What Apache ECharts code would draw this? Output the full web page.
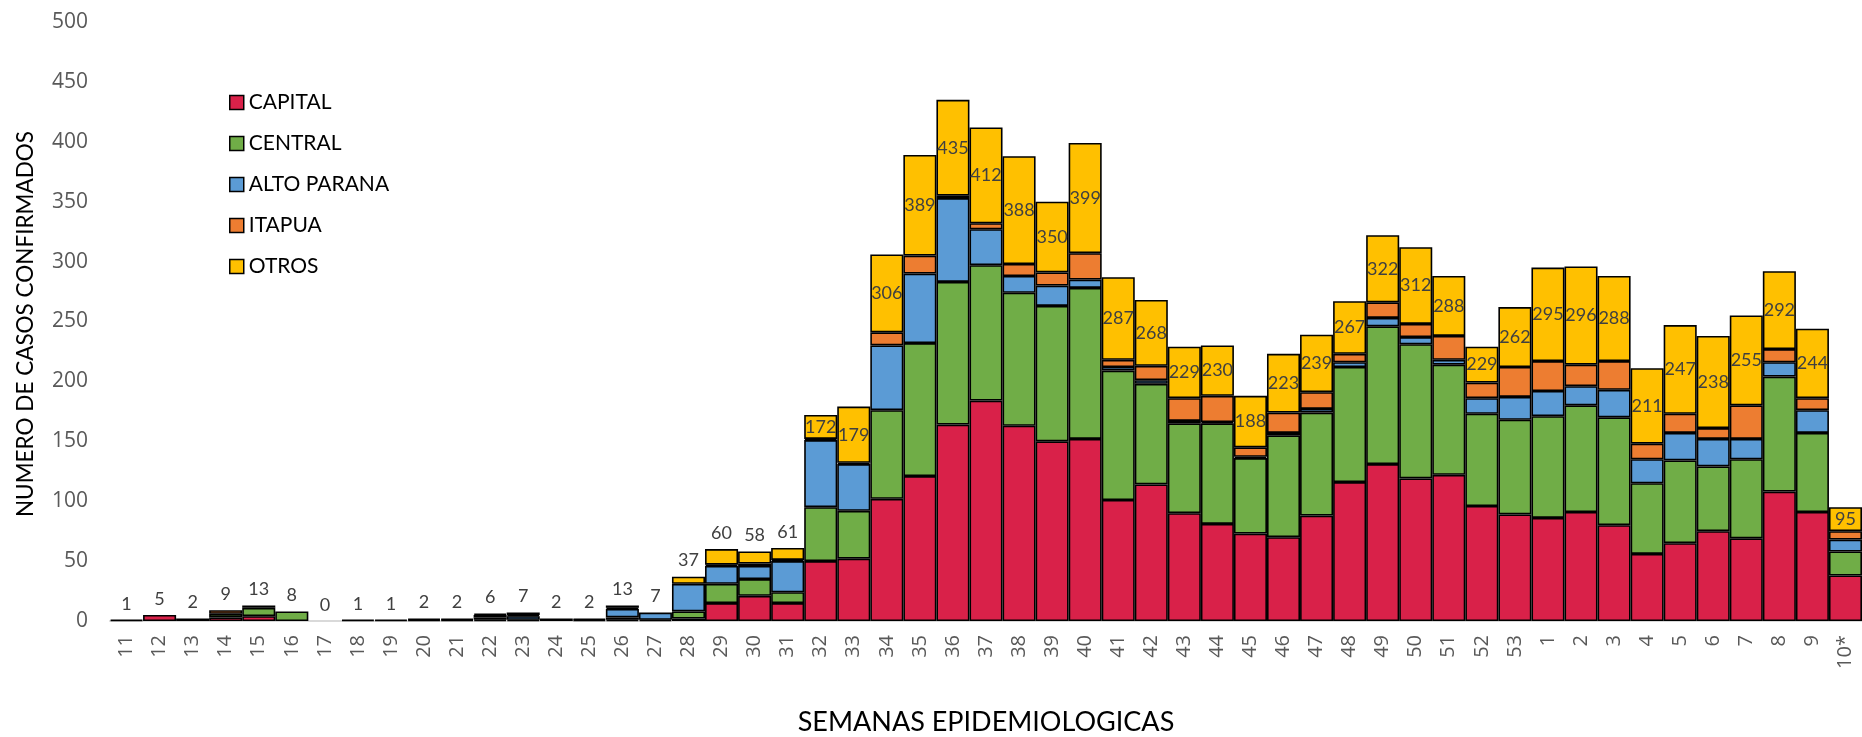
<!DOCTYPE html>
<html>
<head>
<meta charset="utf-8">
<script src="https://cdn.jsdelivr.net/npm/echarts@6/dist/echarts.min.js"></script>
<style>
html,body{margin:0;padding:0;background:#fff;}
#chart{width:1862px;height:737px;}
</style>
</head>
<body>
<div id="chart"></div>
<script>
const categories = ['11','12','13','14','15','16','17','18','19','20','21','22','23','24','25','26','27','28','29','30',
  '31','32','33','34','35','36','37','38','39','40','41','42','43','44','45','46','47','48','49','50','51','52','53',
  '1','2','3','4','5','6','7','8','9','10*'];

const capital = [0,5,2,3,4,0,0,0,0,1, 1,1,0,0,1,1,0,2,15,21,
  15,50,52,102,121,164,184,163,150,152, 101,114,90,81,73,70,88,116,131,119, 122,96,89,
  86,91,80,56,65,75,69,108,91,38];
const central = [1,0,0,3,7,8,0,1,1,1, 1,2,1,0,1,2,1,6,16,14,
  9,45,40,74,111,119,113,111,113,126, 108,84,75,84,63,85,86,96,115,112, 92,77,79,
  85,89,90,59,69,54,66,96,66,20];
const altoParana = [0,0,0,0,0,0,0,0,0,0, 0,0,3,0,0,7,6,23,15,11,
  26,56,39,54,58,70,30,14,17,7, 3,3,2,1,1,2,3,4,7,6, 4,13,19,
  21,16,23,20,23,23,17,12,19,10];
const itapua = [0,0,0,3,0,0,0,0,0,0, 0,2,1,0,0,1,0,0,1,2,
  1,1,1,11,15,2,5,10,11,22, 6,12,19,22,8,17,14,7,13,11, 20,13,25,
  25,18,24,13,16,9,28,11,10,7];
const otros = [0,0,0,0,2,0,0,0,0,0, 0,1,2,2,0,2,0,6,13,10,
  10,20,47,65,84,80,80,90,59,92, 69,55,43,42,43,49,48,44,56,64, 50,30,50,
  78,82,71,63,74,77,75,65,58,20];

const seriesNames = ['CAPITAL','CENTRAL','ALTO PARANA','ITAPUA','OTROS'];
const seriesColors = ['#D92149','#70AD47','#5B9BD5','#ED7D31','#FFC000'];
const yTicks = {min: 0, max: 500, interval: 50};

const totals = categories.map((_, i) => capital[i] + central[i] + altoParana[i] + itapua[i] + otros[i]);

function toItems(arr, isTop) {
  return arr.map(function (v) {
    const it = {value: v};
    if (v === 0) it.itemStyle = {borderWidth: 0};
    if (isTop) it.label = {show: true, position: v >= 15 ? 'inside' : 'top'};
    return it;
  });
}

const dataSets = [capital, central, altoParana, itapua, otros];
const series = dataSets.map(function (arr, k) {
  const isTop = k === dataSets.length - 1;
  const s = {
    name: seriesNames[k],
    type: 'bar',
    stack: 'total',
    barCategoryGap: '0%',
    data: toItems(arr, isTop),
    itemStyle: {color: seriesColors[k], borderColor: '#000', borderWidth: 1.6},
    emphasis: {disabled: true},
    animation: false
  };
  if (isTop) {
    s.label = {
      show: true,
      formatter: function (p) { return String(totals[p.dataIndex]); },
      color: '#404040',
      fontFamily: 'Lato',
      fontSize: 18,
      distance: 7,
      textBorderWidth: 0
    };
  }
  return s;
});

const chart = echarts.init(document.getElementById('chart'), null, {renderer: 'canvas'});
chart.setOption({
  backgroundColor: '#ffffff',
  animation: false,
  grid: {left: 110, top: 22, width: 1757, height: 599, containLabel: false},
  legend: {
    orient: 'vertical',
    left: 224,
    top: 87,
    itemWidth: 14,
    itemHeight: 14,
    itemGap: 20,
    icon: 'rect',
    data: seriesNames,
    itemStyle: {borderColor: '#000', borderWidth: 1.5},
    textStyle: {fontFamily: 'Lato', fontSize: 21, color: '#000', lineHeight: 20}
  },
  xAxis: {
    type: 'category',
    data: categories,
    axisLine: {lineStyle: {color: '#D9D9D9', width: 2}},
    axisTick: {show: false},
    axisLabel: {rotate: 90, interval: 0, margin: 14, fontFamily: 'Open Sans', fontSize: 20, color: '#595959'}
  },
  yAxis: {
    type: 'value',
    min: yTicks.min,
    max: yTicks.max,
    interval: yTicks.interval,
    axisLine: {show: false},
    axisTick: {show: false},
    splitLine: {show: false},
    axisLabel: {margin: 22, fontFamily: 'Open Sans', fontSize: 21, color: '#595959'}
  },
  graphic: [
    {
      type: 'text',
      x: 26, y: 324,
      rotation: Math.PI / 2,
      style: {text: 'NUMERO DE CASOS CONFIRMADOS', fontFamily: 'Lato', fontSize: 22.5, fill: '#000',
        textAlign: 'center', textVerticalAlign: 'middle'}
    },
    {
      type: 'text',
      x: 986, y: 722,
      style: {text: 'SEMANAS EPIDEMIOLOGICAS', fontFamily: 'Lato', fontSize: 27, fill: '#000',
        textAlign: 'center', textVerticalAlign: 'middle'}
    }
  ],
  series: series
});
</script>
</body>
</html>
